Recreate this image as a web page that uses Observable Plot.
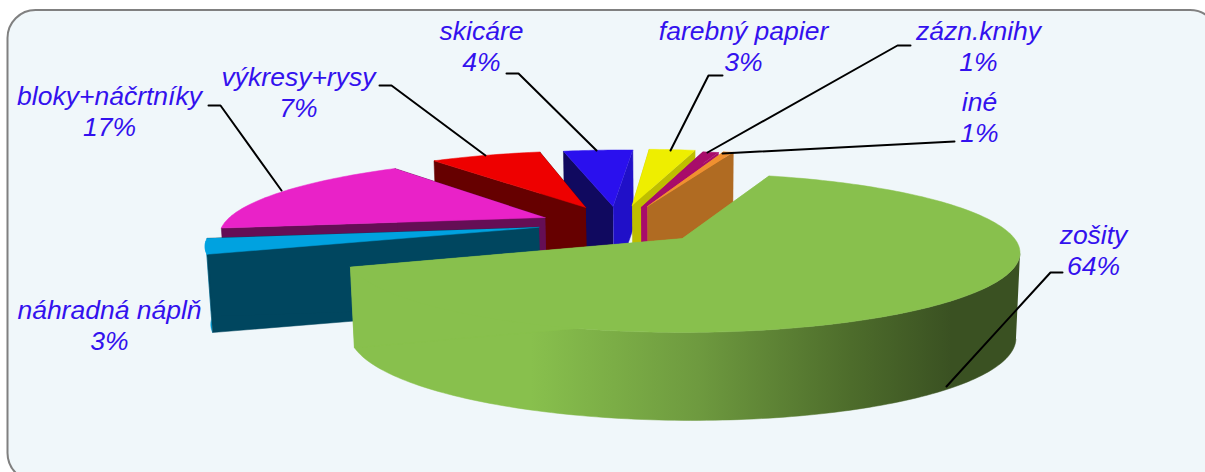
<!DOCTYPE html>
<html><head><meta charset="utf-8">
<script src="https://cdn.jsdelivr.net/npm/d3@7"></script>
<script src="https://cdn.jsdelivr.net/npm/@observablehq/plot@0.6"></script>
<style>html,body{margin:0;padding:0;background:#fff}svg{display:block}</style>
</head><body><div id="chart"></div>
<script>
// Data, in pie order (clockwise, starting at the big slice)
const categories = ["zošity","náhradná náplň","bloky+náčrtníky","výkresy+rysy","skicáre","farebný papier","zázn.knihy","iné"];
// Shares; the labels show them rounded
const shares = [64.4,3.3,17.1,6.65,4.2,2.8,0.95,0.6];

// Look of each slice
const topColors  = ["#88c04d","#00a2e0","#e922c8","#ee0000","#2a10ee","#eeee00","#a80c6a","#f09030"];
const rimColors  = ["url(#greenRim)","#00a2e0","#650e55","#660000","#10095f","#bebe00","#a80c6a","#b06b22"];
const cutAColors = ["#88c04d","#00465f","#650e55","#660000","#10095f","#bebe00","#a80c6a","#f09030"];
const cutBColors = ["#88c04d","#00465f","#650e55","#660000","#2010c8","#bebe00","#a80c6a","#b06b22"];
// Explosion of each slice on the pie plane (unit: pie radius)
const explodeX = [0,-.444,-.435,-.314,-.226,-.164,-.134,-.114];
const explodeY = [0, .150, .287, .434, .449, .464, .434, .449];
// Back-to-front paint order
const paintOrder = [4,5,6,7,3,2,1,0];

// Labels and leader lines (layout, in chart pixels)
const labelX = [1093,109,109,298,481,743,978,979];
const labelY = [249,324,110,91,45,45,45,116];
const leaders = [
  [[1062,272],[1050,272],[946,386]],
  [],
  [[208,105],[220,105],[281,190]],
  [[379,85],[391,85],[485,155]],
  [[506,73],[518,73],[596,150]],
  [[722,75],[708,75],[670,150]],
  [[910,45],[897,45],[707,152]],
  [[954,141],[722,153]]
];

// Perspective of the pie plane
const view = {cx:682, cy:238, A:332, B:77, k:.18, startDeg:17.8};
function project(px, py, down){
  const w = 1 + view.k*py;
  const dx = view.A*px/w, dy = -view.B*py/w;
  if (!down) return [view.cx+dx, view.cy+dy];
  return [view.cx+dx*.988, view.cy+dy+Math.max(78,81-7*py+3*px)];
}
let acc = view.startDeg;
const slices = shares.map((v,i)=>{
  const a0 = acc*Math.PI/180, a1 = (acc+v*3.6)*Math.PI/180; acc += v*3.6;
  return {i,a0,a1};
});
function rimAngles(s){
  const n = Math.max(4,Math.ceil((s.a1-s.a0)/0.02));
  return d3.range(n+1).map(j=>s.a0+(s.a1-s.a0)*j/n);
}
const onRim = (s,t,down)=>project(explodeX[s.i]+Math.sin(t),explodeY[s.i]+Math.cos(t),down);
function cut(s,a){
  const ex=explodeX[s.i], ey=explodeY[s.i];
  return [project(ex,ey,false),onRim(s,a,false),onRim(s,a,true),project(ex,ey,true)];
}
const face = (pts,fill)=>Plot.line(pts,{x:d=>d[0],y:d=>d[1],fill,stroke:fill,strokeWidth:.5,curve:"linear"});
function rimFace(s){
  // only the part of the rim that turns towards the viewer
  const ts = rimAngles(s).filter(t=>Math.cos(t)<=-view.k);
  if (ts.length<2) return null;
  return face([...ts.map(t=>onRim(s,t,false)),...ts.slice().reverse().map(t=>onRim(s,t,true))],rimColors[s.i]);
}
const pieMarks = paintOrder.flatMap(i=>{
  const s = slices[i];
  const apex = project(explodeX[i],explodeY[i],false);
  return [
    rimFace(s),
    face(cut(s,s.a0),cutAColors[i]),
    face(cut(s,s.a1),cutBColors[i]),
    face([apex,...rimAngles(s).map(t=>onRim(s,t,false))],topColors[i])
  ];
});
const defs = ()=>{
  const g = d3.create("svg:defs");
  const lg = g.append("linearGradient").attr("id","greenRim").attr("gradientUnits","userSpaceOnUse")
    .attr("x1",350).attr("x2",1018).attr("y1",0).attr("y2",0);
  [[0,"#88c04d"],[.27,"#88c04d"],[.52,"#6e9a3f"],[.75,"#4d6c2b"],[.9,"#3a5122"],[1,"#3a5122"]]
    .forEach(([o,c])=>lg.append("stop").attr("offset",o).attr("stop-color",c));
  return g.node();
};
const labelRows = categories.map((c,i)=>({text:`${c}\n${Math.round(shares[i])}%`,x:labelX[i],y:labelY[i]}));

const chart = Plot.plot({
  width:1205,height:472,margin:0,
  x:{domain:[0,1205],range:[0,1205],axis:null},
  y:{domain:[0,472],range:[0,472],axis:null},
  marks:[
    defs,
    Plot.rect([0],{x1:7.5,x2:1218,y1:10,y2:481,rx:28,fill:"#f0f7fa",stroke:"#808080",strokeWidth:2}),
    ...pieMarks,
    ...leaders.filter(l=>l.length).map(l=>Plot.line(l,{x:d=>d[0],y:d=>d[1],stroke:"#000",strokeWidth:2,curve:"linear"})),
    Plot.text(labelRows,{x:"x",y:"y",text:"text",fontSize:26.5,fontStyle:"italic",fontFamily:"Liberation Sans, Arial, sans-serif",fill:"#3311ee",lineHeight:1.17,textAnchor:"middle"})
  ]
});
chart.style.background="#fff";
document.getElementById("chart").append(chart);
</script></body></html>
